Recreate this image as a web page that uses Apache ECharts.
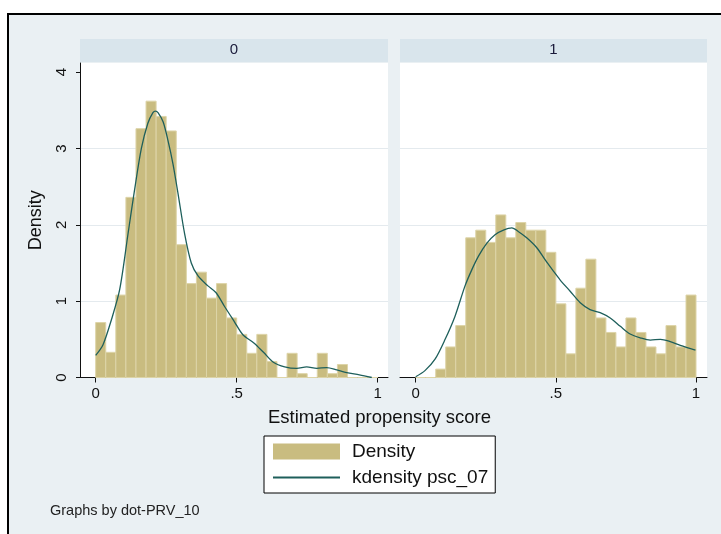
<!DOCTYPE html>
<html><head><meta charset="utf-8">
<script src="https://cdn.jsdelivr.net/npm/echarts@6/dist/echarts.min.js"></script>
<style>html,body{margin:0;padding:0;background:#fff}#c{width:721px;height:534px}</style>
</head><body><div id="c"></div>
<script>
// ---- data ----
const panelLabels = ['0', '1'];
const binCount = 28;
const binLow = 0;
const binHigh = 1;
const density0 = [0.72, 0.33, 1.08, 2.36, 3.26, 3.62, 3.42, 3.23, 1.74, 1.23, 1.38, 1.04, 1.23, 0.78,
                  0.565, 0.317, 0.565, 0.21, 0, 0.317, 0.05, 0, 0.317, 0.05, 0.17, 0, 0, 0];
const density1 = [0, 0, 0.11, 0.40, 0.68, 1.83, 1.93, 1.77, 2.13, 1.83, 2.03, 1.93, 1.93, 1.64,
                  0.965, 0.31, 1.17, 1.55, 0.78, 0.59, 0.40, 0.78, 0.59, 0.40, 0.31, 0.68, 0.40, 1.08];
const kdX0 = [0, 0.026, 0.056, 0.085, 0.115, 0.138, 0.162, 0.185, 0.203, 0.212, 0.221, 0.239, 0.256, 0.274,
              0.292, 0.315, 0.339, 0.363, 0.398, 0.427, 0.457, 0.492, 0.522, 0.562, 0.595, 0.63, 0.67,
              0.713, 0.748, 0.784, 0.819, 0.855, 0.89, 0.935, 0.979];
const kdY0 = [0.29, 0.43, 0.76, 1.15, 1.89, 2.46, 3.0, 3.33, 3.47, 3.49, 3.47, 3.35, 3.11, 2.80,
              2.41, 1.89, 1.50, 1.33, 1.20, 1.11, 0.93, 0.73, 0.56, 0.45, 0.33, 0.2, 0.14,
              0.12, 0.14, 0.12, 0.13, 0.1, 0.065, 0.035, 0.0];
const kdX1 = [0, 0.033, 0.069, 0.105, 0.14, 0.176, 0.2, 0.224, 0.254, 0.283, 0.313, 0.343, 0.367, 0.396,
              0.432, 0.462, 0.49, 0.515, 0.551, 0.587, 0.622, 0.658, 0.694, 0.73, 0.765, 0.801, 0.837,
              0.873, 0.908, 0.944, 0.998];
const kdY1 = [0.01, 0.09, 0.24, 0.50, 0.80, 1.20, 1.41, 1.59, 1.76, 1.87, 1.93, 1.96, 1.91, 1.83,
              1.70, 1.54, 1.40, 1.28, 1.13, 0.98, 0.89, 0.85, 0.78, 0.67, 0.57, 0.52, 0.49,
              0.50, 0.47, 0.42, 0.36];
const xTicks = [0, 0.5, 1];
const xTickLabels = ['0', '.5', '1'];
const yTicks = [0, 1, 2, 3, 4];
const seriesNames = ['Density', 'kdensity psc_07'];
const xTitle = 'Estimated propensity score';
const yTitle = 'Density';
const note = 'Graphs by dot-PRV_10';

// ---- styling ----
const FONT = 'Liberation Sans';
const BAR_FILL = '#c9bc80';
const BAR_EDGE = '#ddd4a8';
const LINE_COL = '#1e5f5b';
const GRID_COL = '#e4eaee';

const densities = [density0, density1];
const kdX = [kdX0, kdX1];
const kdY = [kdY0, kdY1];

const grids = [
  {left: 80, width: 308, top: 63, bottom: 156.5, show: true, backgroundColor: '#fff', borderWidth: 0},
  {left: 400, width: 307, top: 63, bottom: 156.5, show: true, backgroundColor: '#fff', borderWidth: 0}
];
const xRanges = [[-0.0556, 1.0365], [-0.056, 1.0392]];

const xAxes = xRanges.map((r, i) => ({
  type: 'value', gridIndex: i, min: r[0], max: r[1],
  axisLine: {show: true, onZero: false, lineStyle: {color: '#111', width: 1}},
  axisTick: {show: true, customValues: xTicks, length: 5, lineStyle: {color: '#111'}},
  axisLabel: {show: true, customValues: xTicks, margin: 9, fontFamily: FONT, fontSize: 15, color: '#111',
    formatter: v => { const k = xTicks.indexOf(v); return k >= 0 ? xTickLabels[k] : ''; }},
  splitLine: {show: false}
}));

const yAxes = [0, 1].map(i => ({
  type: 'value', gridIndex: i, min: 0, max: 4.12, interval: 1,
  name: i === 0 ? yTitle : '', nameLocation: 'middle', nameGap: 35, nameRotate: 90,
  nameTextStyle: {fontFamily: FONT, fontSize: 18, color: '#111'},
  axisLine: {show: i === 0, onZero: false, lineStyle: {color: '#111', width: 1}},
  axisTick: {show: i === 0, customValues: yTicks, length: 4, lineStyle: {color: '#111'}},
  axisLabel: {show: i === 0, customValues: yTicks, rotate: 90, margin: 11, fontFamily: FONT, fontSize: 15, color: '#111'},
  splitLine: {show: true, showMinLine: false, showMaxLine: false, lineStyle: {color: GRID_COL, width: 1}}
}));

const binW = (binHigh - binLow) / binCount;
const series = [];
[0, 1].forEach(i => {
  series.push({
    type: 'custom', name: seriesNames[0], xAxisIndex: i, yAxisIndex: i,
    itemStyle: {color: BAR_FILL},
    encode: {x: [0, 1], y: 2},
    data: densities[i].map((v, k) => [binLow + k * binW, binLow + (k + 1) * binW, v]),
    renderItem: (params, api) => {
      const p0 = api.coord([api.value(0), api.value(2)]);
      const p1 = api.coord([api.value(1), 0]);
      return {type: 'rect', shape: {x: p0[0], y: p0[1], width: p1[0] - p0[0], height: p1[1] - p0[1]},
        style: {fill: BAR_FILL, stroke: BAR_EDGE, lineWidth: 1}};
    },
    z: 2
  });
  series.push({
    type: 'line', name: seriesNames[1], xAxisIndex: i, yAxisIndex: i,
    data: kdX[i].map((x, k) => [x, kdY[i][k]]),
    showSymbol: false, symbol: 'none', smooth: 0.3,
    lineStyle: {color: LINE_COL, width: 1.3}, itemStyle: {color: LINE_COL},
    z: 3
  });
});

const graphic = [
  {type: 'rect', z: -5, shape: {x: 8, y: 14, width: 760, height: 560}, style: {fill: '#eaf0f3', stroke: '#000', lineWidth: 2}},
  {type: 'rect', z: -4, shape: {x: 80, y: 39, width: 308, height: 23}, style: {fill: '#d9e5ec'}},
  {type: 'rect', z: -4, shape: {x: 400, y: 39, width: 307, height: 23}, style: {fill: '#d9e5ec'}},
  {type: 'text', z: 5, x: 234, y: 50, style: {text: panelLabels[0], font: '15px ' + FONT, fill: '#1a1a3a', align: 'center', verticalAlign: 'middle'}},
  {type: 'text', z: 5, x: 553.5, y: 50, style: {text: panelLabels[1], font: '15px ' + FONT, fill: '#1a1a3a', align: 'center', verticalAlign: 'middle'}},
  {type: 'text', z: 5, x: 379.5, y: 418, style: {text: xTitle, font: '18.5px ' + FONT, fill: '#111', align: 'center', verticalAlign: 'middle'}},
  {type: 'text', z: 5, x: 50, y: 511, style: {text: note, font: '14.5px ' + FONT, fill: '#222', align: 'left', verticalAlign: 'middle'}}
];

const chart = echarts.init(document.getElementById('c'), null, {renderer: 'canvas'});
chart.setOption({
  animation: false,
  backgroundColor: '#fff',
  grid: grids,
  xAxis: xAxes,
  yAxis: yAxes,
  series: series,
  graphic: graphic,
  legend: {
    left: 264, top: 436, orient: 'vertical', itemWidth: 67, itemHeight: 16, itemGap: 7,
    padding: [6, 7, 6, 8], backgroundColor: '#fff', borderColor: '#000', borderWidth: 1, borderRadius: 0,
    selectedMode: false,
    textStyle: {fontFamily: FONT, fontSize: 19, color: '#111', padding: [0, 0, 0, 7]},
    data: [
      {name: seriesNames[0], icon: 'rect'},
      {name: seriesNames[1], itemStyle: {opacity: 0}}
    ]
  }
});
</script>
</body></html>
